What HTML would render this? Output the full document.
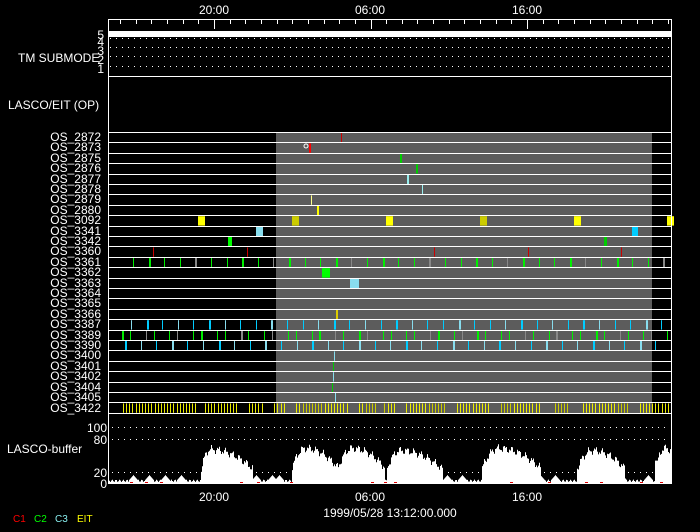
<!DOCTYPE html>
<html><head><meta charset="utf-8"><style>
html,body{margin:0;padding:0;background:#000;}
svg{display:block}
text{font-family:"Liberation Sans",sans-serif;fill:#fff;font-size:12px}
</style></head><body>
<svg id="s" width="700" height="532" viewBox="0 0 700 532" xmlns="http://www.w3.org/2000/svg">
<rect width="700" height="532" fill="#000"/>
<rect x="276" y="132" width="376" height="281" fill="#5c5c5c"/>
<g id="g"></g>
<g stroke="#fff" stroke-width="1" fill="none">
<line x1="108.5" y1="19" x2="108.5" y2="484"/>
<line x1="671.5" y1="19" x2="671.5" y2="484"/>
<line x1="108" y1="19.5" x2="672" y2="19.5"/>
<line x1="108" y1="76.5" x2="672" y2="76.5"/>
<line x1="108" y1="483.5" x2="672" y2="483.5"/>
</g>
<rect x="109" y="31" width="562" height="6" fill="#fff"/>
<g id="lab">
<text x="214" y="14" text-anchor="middle">20:00</text>
<text x="370" y="14" text-anchor="middle">06:00</text>
<text x="527" y="14" text-anchor="middle">16:00</text>
<text x="214" y="501" text-anchor="middle">20:00</text>
<text x="370" y="501" text-anchor="middle">06:00</text>
<text x="527" y="501" text-anchor="middle">16:00</text>
<text x="390" y="517" text-anchor="middle">1999/05/28 13:12:00.000</text>
<text x="18" y="62">TM SUBMODE</text>
<text x="104" y="39" text-anchor="end">5</text>
<text x="104" y="46" text-anchor="end">4</text>
<text x="104" y="55" text-anchor="end">3</text>
<text x="104" y="64" text-anchor="end">2</text>
<text x="104" y="73" text-anchor="end">1</text>
<text x="8" y="109">LASCO/EIT (OP)</text>
<text x="7" y="453">LASCO-buffer</text>
<text x="107" y="432" text-anchor="end">100</text>
<text x="107" y="444" text-anchor="end">80</text>
<text x="107" y="477" text-anchor="end">20</text>
<text x="107" y="488" text-anchor="end">0</text>
<text x="13" y="522" style="font-size:10px;fill:#f00">C1</text>
<text x="34" y="522" style="font-size:10px;fill:#0f0">C2</text>
<text x="55" y="522" style="font-size:10px;fill:#8ee">C3</text>
<text x="77" y="522" style="font-size:10px;fill:#ff0">EIT</text>
<text x="101" y="141" text-anchor="end">OS_2872</text>
<text x="101" y="151" text-anchor="end">OS_2873</text>
<text x="101" y="162" text-anchor="end">OS_2875</text>
<text x="101" y="172" text-anchor="end">OS_2876</text>
<text x="101" y="183" text-anchor="end">OS_2877</text>
<text x="101" y="193" text-anchor="end">OS_2878</text>
<text x="101" y="203" text-anchor="end">OS_2879</text>
<text x="101" y="214" text-anchor="end">OS_2880</text>
<text x="101" y="224" text-anchor="end">OS_3092</text>
<text x="101" y="235" text-anchor="end">OS_3341</text>
<text x="101" y="245" text-anchor="end">OS_3342</text>
<text x="101" y="255" text-anchor="end">OS_3360</text>
<text x="101" y="266" text-anchor="end">OS_3361</text>
<text x="101" y="276" text-anchor="end">OS_3362</text>
<text x="101" y="287" text-anchor="end">OS_3363</text>
<text x="101" y="297" text-anchor="end">OS_3364</text>
<text x="101" y="307" text-anchor="end">OS_3365</text>
<text x="101" y="318" text-anchor="end">OS_3366</text>
<text x="101" y="328" text-anchor="end">OS_3387</text>
<text x="101" y="339" text-anchor="end">OS_3389</text>
<text x="101" y="349" text-anchor="end">OS_3390</text>
<text x="101" y="359" text-anchor="end">OS_3400</text>
<text x="101" y="370" text-anchor="end">OS_3401</text>
<text x="101" y="380" text-anchor="end">OS_3402</text>
<text x="101" y="391" text-anchor="end">OS_3404</text>
<text x="101" y="401" text-anchor="end">OS_3405</text>
<text x="101" y="412" text-anchor="end">OS_3422</text>
</g>
</svg>
<script>
(function(){
var g=document.getElementById('g'),h='';
function R(x,y,w,hh,c){h+='<rect x="'+x+'" y="'+y+'" width="'+w+'" height="'+hh+'" fill="'+c+'"/>';}
function L(x1,y1,x2,y2,c,d){h+='<line x1="'+x1+'" y1="'+y1+'" x2="'+x2+'" y2="'+y2+'" stroke="'+c+'"'+(d?' stroke-dasharray="'+d+'"':'')+'/>';}
for(var i=-7;i<=30;i++){var x=Math.round(214+i*15.65)+.5;if(x<110||x>671)continue;var big=(i==0||i==10||i==20);L(x,19,x,big?29:24,'#fff');}
[38,47,56,66].forEach(function(y){L(110,y+.5,670,y+.5,'#fff','1 5');});
[427,439,472].forEach(function(y){L(112,y+.5,670,y+.5,'#fff','1 5');});
var rh=10.4,y0=132;
function ry(i){return y0+i*rh;}
function M(row,x,w,c){R(x,ry(row)+1,w,rh-1,c);}
M(0,341,1,'#c00');M(1,309,2,'#f00');h+='<circle cx="306" cy="146" r="2" fill="none" stroke="#fff"/>';
M(2,400,2,'#0c0');M(3,416,2,'#0c0');M(4,407,2,'#9ee');M(5,422,1,'#9ee');M(6,311,1,'#ff8');M(7,317,2,'#ff0');
[[198,'#ff0'],[292,'#cc0'],[386,'#ff0'],[480,'#cc0'],[574,'#ff0'],[667,'#ff0']].forEach(function(a){M(8,a[0],7,a[1]);});
M(9,256,7,'#8de');M(9,632,6,'#0cf');M(10,228,4,'#0f0');M(10,604,3,'#0c0');
[153,247,434,528,621].forEach(function(x){M(11,x,1,'#c00');});
for(var x=133;x<668;x+=15.6){var k=Math.round((x-133)/15.6);M(12,Math.round(x),(k%3==1)?2:1,(k%5==4)?'#888':'#0e0');}
M(13,322,8,'#0f0');M(14,350,9,'#8de');M(17,336,2,'#dc0');
for(var x=131;x<668;x+=15.6){var k=Math.round((x-131)/15.6);M(18,Math.round(x),(k%4==1)?2:1,(k%3==0)?'#8de':'#0cf');}
for(var x=122;x<668;x+=7.9){var k=Math.round((x-122)/7.9);if(k%3==2)continue;M(19,Math.round(x),(k%5==0)?2:1,(k%4==3)?'#888':'#0e0');}
for(var x=125;x<668;x+=15.6){var k=Math.round((x-125)/15.6);M(20,Math.round(x),(k%3==0)?2:1,(k%2)?'#8de':'#0cf');}
M(21,334,1,'#8de');M(22,333,1,'#0c0');M(23,333,1,'#8de');M(24,332,1,'#0c0');M(25,335,1,'#8de');
var gaps=[[196,203],[240,246],[263,272],[287,295],[348,356],[376,383],[395,405],[446,455],[491,500],[541,553],[570,580],[630,637]];
for(var x=123;x<668;x+=3.15){var xx=Math.round(x),skip=false;gaps.forEach(function(gp){if(xx>=gp[0]&&xx<=gp[1])skip=true;});if(skip)continue;M(26,xx,1,(xx>276&&xx<652&&(xx%3==0))?'#cc0':'#ee0');}
for(var i=0;i<=27;i++){var y=Math.round(ry(i))+.5;L(109,y,671,y,'#fff');}
var hm=[[200,210,60,18],[290,305,62,14],[336,352,62,14],[385,400,58,18],[480,498,62,18],[575,592,58,14],[655,664,62,8]];
var sm=[133,149,165,181,256,272,279,376,447,462,540,555,607,622,648];
var pts='109,483 ';
for(var x=109;x<=671;x++){var v=4+2*Math.sin(x*1.7);
sm.forEach(function(c){var d=Math.abs(x-c);if(d<5)v=Math.max(v,14-d*2);});
hm.forEach(function(m){var d=x-m[1];var w=d<0?(m[1]-m[0]):m[3]*2.6;var t=Math.abs(d)/w;if(t<1){var vv=m[2]*(1-t*t*0.7)-(t>0.9?30:0)+5*Math.sin(x*0.9)+3*Math.sin(x*2.3);v=Math.max(v,vv);}});
if(x>=655&&x<660)v=Math.max(v,40);
var y=483-v*0.56;pts+=x+','+y.toFixed(1)+' '+(x+1)+','+y.toFixed(1)+' ';}
pts+='671,483';
h+='<polygon points="'+pts+'" fill="#fff"/>';
[130,145,160,240,257,290,371,384,394,510,548,585,600,640,660].forEach(function(x){R(x,482,3,1.5,'#d00');});
g.innerHTML=h;
})();
</script>
</body></html>
